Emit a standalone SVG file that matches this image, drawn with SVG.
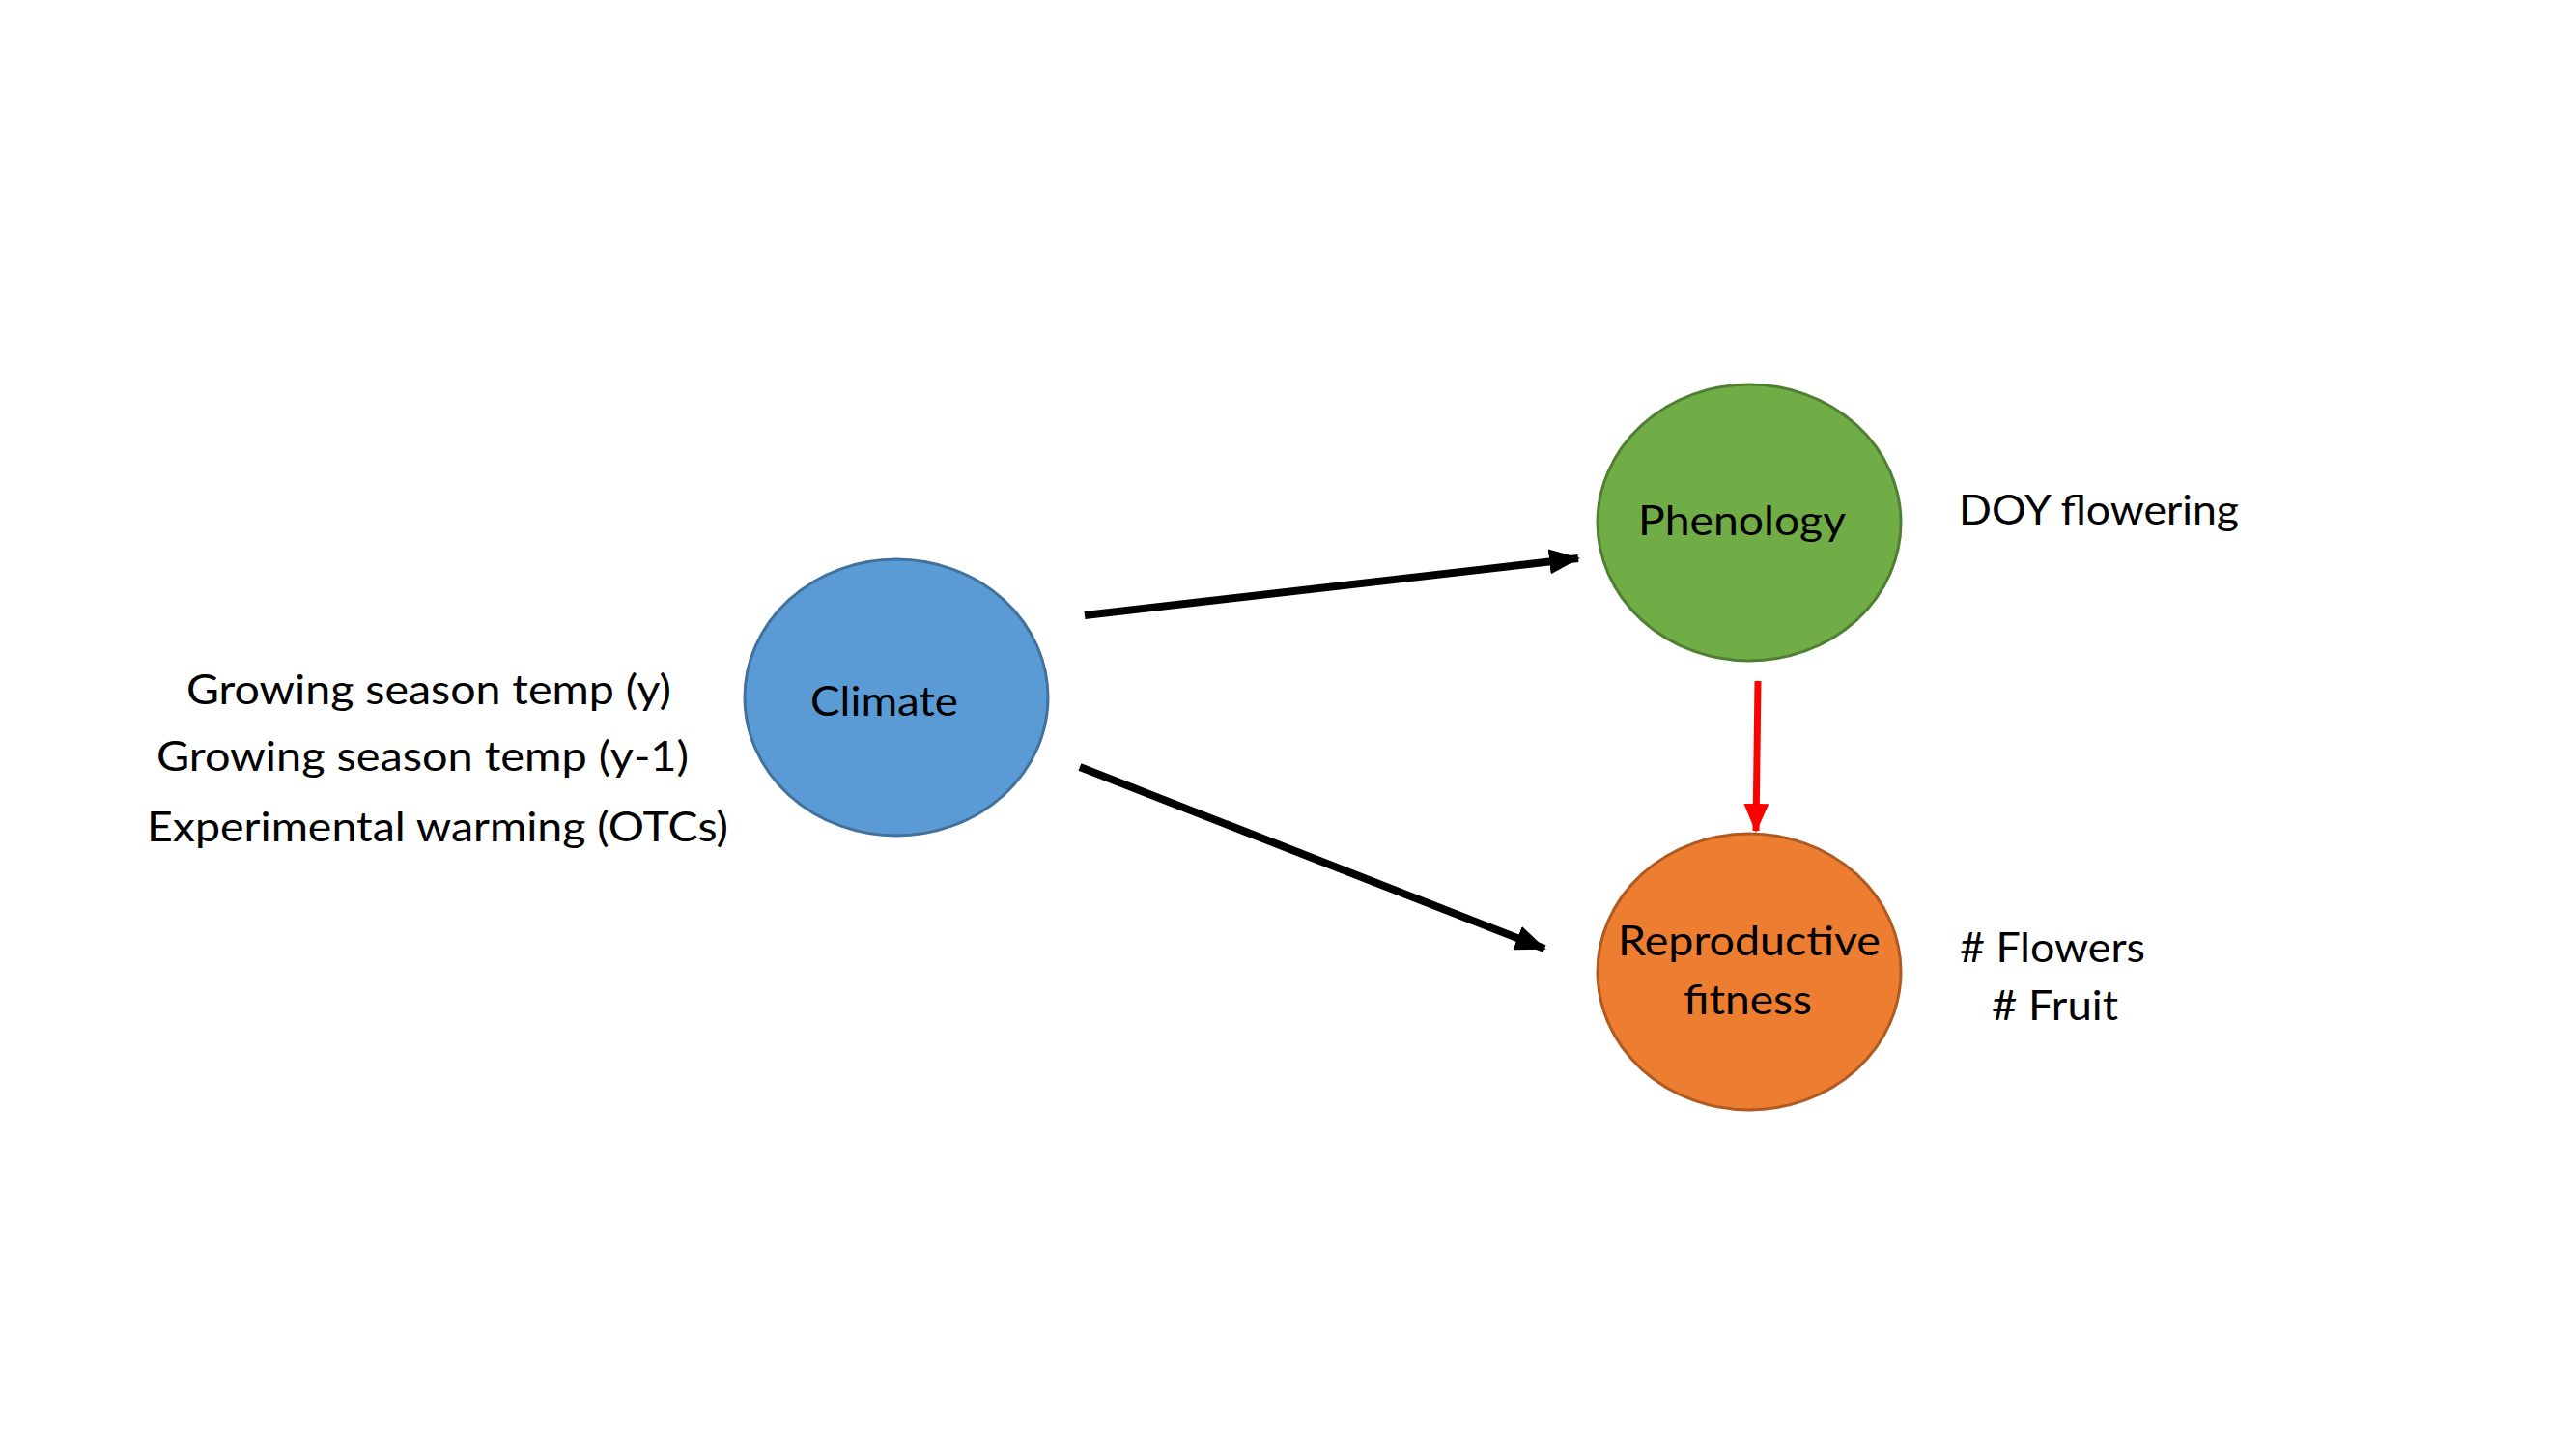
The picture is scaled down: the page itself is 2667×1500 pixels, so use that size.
<svg xmlns="http://www.w3.org/2000/svg" width="2667" height="1500" viewBox="0 0 2667 1500">
<style>
.t{font-family:Lato,"Open Sans","Liberation Sans",sans-serif;font-size:43px;fill:#000}
.node{stroke-width:3}
.blk{stroke:#000;stroke-width:8;fill:none}
.red{stroke:#FF0000;stroke-width:7;fill:none}
</style>
<defs>
<marker id="ab" markerUnits="userSpaceOnUse" markerWidth="32" markerHeight="26" refX="30" refY="13" orient="auto">
<path d="M0,0 L32,13 L0,26 Z" fill="#000"/>
</marker>
<marker id="ar" markerUnits="userSpaceOnUse" markerWidth="30" markerHeight="26" refX="28" refY="13" orient="auto">
<path d="M0,0 L30,13 L0,26 Z" fill="#FF0000"/>
</marker>
</defs>
<rect width="2667" height="1500" fill="#fff"/>
<g id="climate-vars">
<text class="t" x="193" y="729" textLength="502" lengthAdjust="spacingAndGlyphs">Growing season temp (y)</text>
<text class="t" x="162" y="798" textLength="551" lengthAdjust="spacingAndGlyphs">Growing season temp (y-1)</text>
<text class="t" x="152" y="871" textLength="602" lengthAdjust="spacingAndGlyphs">Experimental warming (OTCs)</text>
</g>
<g id="climate">
<ellipse class="node" cx="928" cy="722" rx="157" ry="143" fill="#5B9BD5" stroke="#41719C"/>
<text class="t" x="839" y="741" textLength="153" lengthAdjust="spacingAndGlyphs">Climate</text>
</g>
<g id="phenology">
<ellipse class="node" cx="1811" cy="541" rx="157" ry="143" fill="#70AD47" stroke="#507E32"/>
<text class="t" x="1696" y="554" textLength="215" lengthAdjust="spacingAndGlyphs">Phenology</text>
</g>
<g id="phenology-vars">
<text class="t" x="2028" y="543" textLength="290" lengthAdjust="spacingAndGlyphs">DOY flowering</text>
</g>
<g id="fitness">
<ellipse class="node" cx="1811" cy="1006" rx="157" ry="143" fill="#ED7D31" stroke="#AE5A21"/>
<text class="t" x="1675" y="989" textLength="272" lengthAdjust="spacingAndGlyphs">Reproductive</text>
<text class="t" x="1743" y="1050" textLength="133" lengthAdjust="spacingAndGlyphs">fitness</text>
</g>
<g id="fitness-vars">
<text class="t" x="2029" y="996" textLength="192" lengthAdjust="spacingAndGlyphs"># Flowers</text>
<text class="t" x="2062" y="1056" textLength="131" lengthAdjust="spacingAndGlyphs"># Fruit</text>
</g>
<g id="connectors">
<line class="blk" x1="1123" y1="637" x2="1634" y2="578" marker-end="url(#ab)"/>
<line class="blk" x1="1118" y1="794" x2="1599" y2="982" marker-end="url(#ab)"/>
<line class="red" x1="1820" y1="705" x2="1818" y2="860" marker-end="url(#ar)"/>
</g>
</svg>
